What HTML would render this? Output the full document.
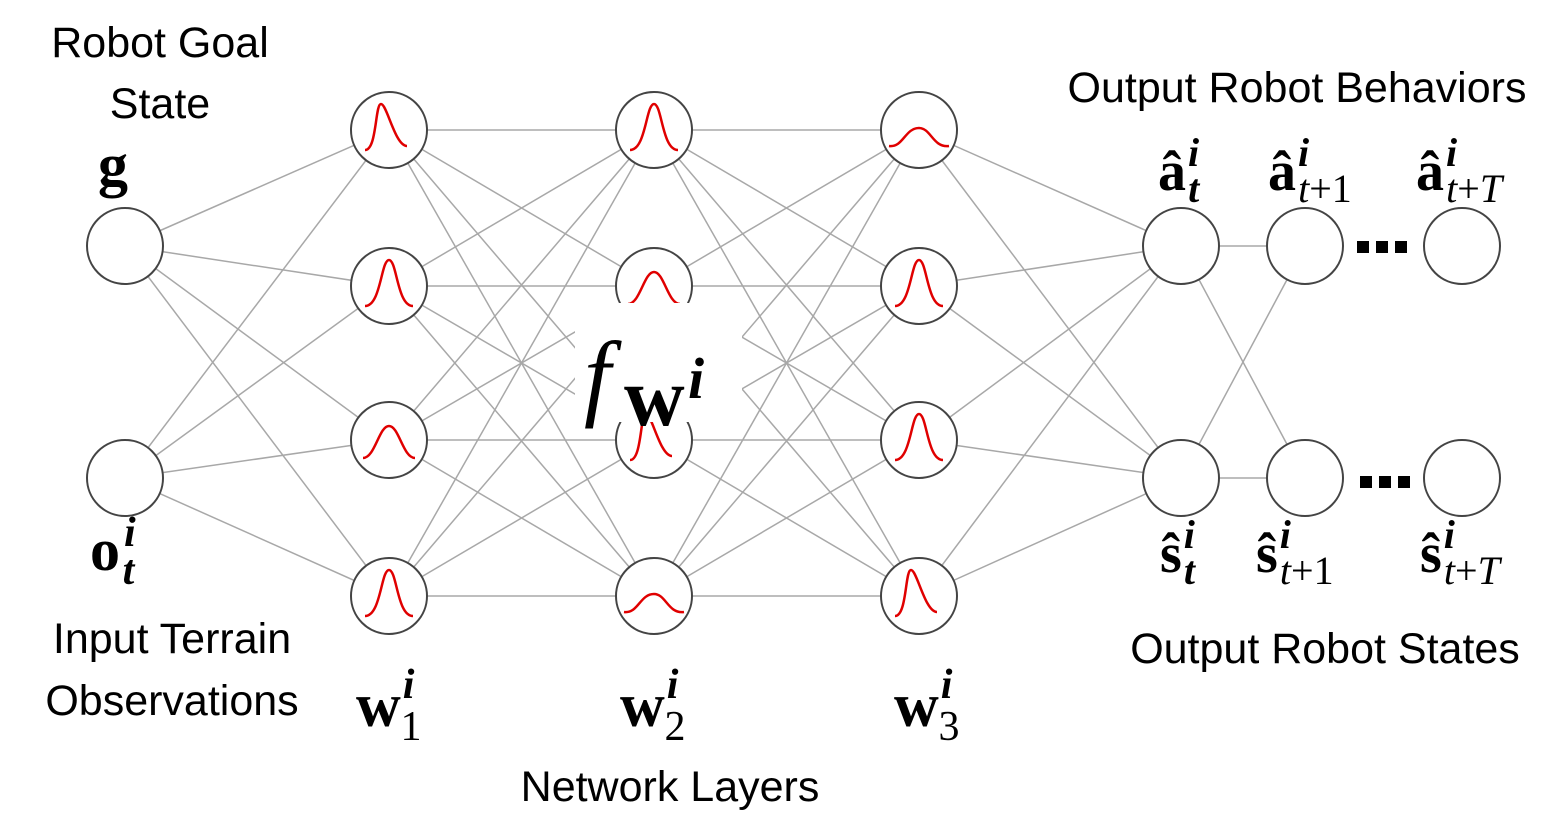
<!DOCTYPE html>
<html><head><meta charset="utf-8"><style>
body{margin:0;background:#fff;width:1562px;height:820px;overflow:hidden}
svg{display:block}
.s{font-family:"Liberation Sans",sans-serif;font-size:43px;fill:#000}
.m{font-family:"Liberation Serif","DejaVu Serif",serif;fill:#000}
</style></head><body>
<svg width="1562" height="820" viewBox="0 0 1562 820" xmlns="http://www.w3.org/2000/svg">
<defs>
<path id="gn" d="M -24 20 C -8 20, -8 -26, 0 -26 C 8 -26, 8 20, 24 20" fill="none" stroke="#e00000" stroke-width="2.5"/>
<path id="gk" d="M -24 20 C -12 20, -14 -26, -8 -26 C -2 -26, 6 16, 18 16" fill="none" stroke="#e00000" stroke-width="2.5"/>
<path id="gw" d="M -26 18 C -14 18, -10 -14, 0 -14 C 10 -14, 14 18, 26 18" fill="none" stroke="#e00000" stroke-width="2.5"/>
<path id="gl" d="M -30 16 C -16 18, -14 -2, 0 -2 C 12 -2, 14 18, 30 16" fill="none" stroke="#e00000" stroke-width="2.5"/>
</defs>
<g stroke="#a8a8a8" stroke-width="1.5">
<line x1="125" y1="246" x2="389" y2="130"/><line x1="125" y1="246" x2="389" y2="286"/><line x1="125" y1="246" x2="389" y2="440"/><line x1="125" y1="246" x2="389" y2="596"/>
<line x1="125" y1="478" x2="389" y2="130"/><line x1="125" y1="478" x2="389" y2="286"/><line x1="125" y1="478" x2="389" y2="440"/><line x1="125" y1="478" x2="389" y2="596"/>
<line x1="389" y1="130" x2="654" y2="130"/><line x1="389" y1="130" x2="654" y2="286"/><line x1="389" y1="130" x2="654" y2="440"/><line x1="389" y1="130" x2="654" y2="596"/>
<line x1="389" y1="286" x2="654" y2="130"/><line x1="389" y1="286" x2="654" y2="286"/><line x1="389" y1="286" x2="654" y2="440"/><line x1="389" y1="286" x2="654" y2="596"/>
<line x1="389" y1="440" x2="654" y2="130"/><line x1="389" y1="440" x2="654" y2="286"/><line x1="389" y1="440" x2="654" y2="440"/><line x1="389" y1="440" x2="654" y2="596"/>
<line x1="389" y1="596" x2="654" y2="130"/><line x1="389" y1="596" x2="654" y2="286"/><line x1="389" y1="596" x2="654" y2="440"/><line x1="389" y1="596" x2="654" y2="596"/>
<line x1="654" y1="130" x2="919" y2="130"/><line x1="654" y1="130" x2="919" y2="286"/><line x1="654" y1="130" x2="919" y2="440"/><line x1="654" y1="130" x2="919" y2="596"/>
<line x1="654" y1="286" x2="919" y2="130"/><line x1="654" y1="286" x2="919" y2="286"/><line x1="654" y1="286" x2="919" y2="440"/><line x1="654" y1="286" x2="919" y2="596"/>
<line x1="654" y1="440" x2="919" y2="130"/><line x1="654" y1="440" x2="919" y2="286"/><line x1="654" y1="440" x2="919" y2="440"/><line x1="654" y1="440" x2="919" y2="596"/>
<line x1="654" y1="596" x2="919" y2="130"/><line x1="654" y1="596" x2="919" y2="286"/><line x1="654" y1="596" x2="919" y2="440"/><line x1="654" y1="596" x2="919" y2="596"/>
<line x1="919" y1="130" x2="1181" y2="246"/><line x1="919" y1="286" x2="1181" y2="246"/><line x1="919" y1="440" x2="1181" y2="246"/><line x1="919" y1="596" x2="1181" y2="246"/>
<line x1="919" y1="130" x2="1181" y2="478"/><line x1="919" y1="286" x2="1181" y2="478"/><line x1="919" y1="440" x2="1181" y2="478"/><line x1="919" y1="596" x2="1181" y2="478"/>
<line x1="1181" y1="246" x2="1305" y2="246"/><line x1="1181" y1="478" x2="1305" y2="478"/>
<line x1="1181" y1="246" x2="1305" y2="478"/><line x1="1181" y1="478" x2="1305" y2="246"/>
</g>
<g fill="#fff" stroke="#444" stroke-width="2">
<circle cx="125" cy="246" r="38"/><circle cx="125" cy="478" r="38"/>
<circle cx="389" cy="130" r="38"/><circle cx="389" cy="286" r="38"/><circle cx="389" cy="440" r="38"/><circle cx="389" cy="596" r="38"/>
<circle cx="654" cy="130" r="38"/><circle cx="654" cy="286" r="38"/><circle cx="654" cy="440" r="38"/><circle cx="654" cy="596" r="38"/>
<circle cx="919" cy="130" r="38"/><circle cx="919" cy="286" r="38"/><circle cx="919" cy="440" r="38"/><circle cx="919" cy="596" r="38"/>
<circle cx="1181" cy="246" r="38"/><circle cx="1305" cy="246" r="38"/><circle cx="1462" cy="246" r="38"/>
<circle cx="1181" cy="478" r="38"/><circle cx="1305" cy="478" r="38"/><circle cx="1462" cy="478" r="38"/>
</g>
<use href="#gk" x="389" y="130"/><use href="#gn" x="389" y="286"/><use href="#gw" x="389" y="440"/><use href="#gn" x="389" y="596"/>
<use href="#gn" x="654" y="130"/><use href="#gw" x="654" y="286"/><use href="#gk" x="654" y="440"/><use href="#gl" x="654" y="596"/>
<use href="#gl" x="919" y="130"/><use href="#gn" x="919" y="286"/><use href="#gn" x="919" y="440"/><use href="#gk" x="919" y="596"/>
<rect x="575" y="303" width="167" height="119" fill="#fff"/>
<text class="m" x="584" y="408" font-size="96" font-style="italic">f</text>
<text class="m" x="624" y="425" font-size="84" font-weight="bold">w</text>
<text class="m" x="688" y="398" font-size="58" font-style="italic" font-weight="bold">i</text>
<g fill="#000"><rect x="1357" y="241" width="12" height="12"/><rect x="1376" y="241" width="12" height="12"/><rect x="1395" y="241" width="12" height="12"/>
<rect x="1360" y="476" width="12" height="12"/><rect x="1379" y="476" width="12" height="12"/><rect x="1398" y="476" width="12" height="12"/></g>
<text class="s" x="160" y="57" text-anchor="middle">Robot Goal</text>
<text class="s" x="160" y="118" text-anchor="middle">State</text>
<text class="s" x="172" y="653" text-anchor="middle">Input Terrain</text>
<text class="s" x="172" y="715" text-anchor="middle">Observations</text>
<text class="m" x="98" y="185" font-size="60" font-weight="bold">g</text>
<g class="m" font-weight="bold">
<text x="90" y="570" font-size="60">o<tspan font-size="42" font-style="italic" dx="4" dy="-24">i</tspan><tspan font-size="42" font-style="italic" dx="-13" dy="38">t</tspan></text>
<text x="356" y="726" font-size="62">w<tspan font-size="42" font-style="italic" dx="2" dy="-28">i</tspan><tspan font-size="42" font-weight="normal" dx="-14" dy="42">1</tspan></text>
<text x="620" y="726" font-size="62">w<tspan font-size="42" font-style="italic" dx="2" dy="-28">i</tspan><tspan font-size="42" font-weight="normal" dx="-14" dy="42">2</tspan></text>
<text x="894" y="726" font-size="62">w<tspan font-size="42" font-style="italic" dx="2" dy="-28">i</tspan><tspan font-size="42" font-weight="normal" dx="-14" dy="42">3</tspan></text>
</g>
<text class="s" x="670" y="801" text-anchor="middle">Network Layers</text>
<text class="s" x="1297" y="102" text-anchor="middle">Output Robot Behaviors</text>
<text class="s" x="1325" y="663" text-anchor="middle">Output Robot States</text>
<g class="m" font-size="56" font-weight="bold">
<text x="1158" y="190">â<tspan font-size="40" font-style="italic" dx="2" dy="-24">i</tspan><tspan font-size="40" font-style="italic" dx="-11" dy="36">t</tspan></text>
<text x="1268" y="190">â<tspan font-size="40" font-style="italic" dx="2" dy="-24">i</tspan><tspan font-size="40" font-weight="normal" dx="-11" dy="36"><tspan font-style="italic">t</tspan>+1</tspan></text>
<text x="1416" y="190">â<tspan font-size="40" font-style="italic" dx="2" dy="-24">i</tspan><tspan font-size="40" font-weight="normal" dx="-11" dy="36"><tspan font-style="italic">t</tspan>+<tspan font-style="italic">T</tspan></tspan></text>
<text x="1160" y="572">ŝ<tspan font-size="40" font-style="italic" dx="2" dy="-24">i</tspan><tspan font-size="40" font-style="italic" dx="-11" dy="36">t</tspan></text>
<text x="1256" y="572">ŝ<tspan font-size="40" font-style="italic" dx="2" dy="-24">i</tspan><tspan font-size="40" font-weight="normal" dx="-11" dy="36"><tspan font-style="italic">t</tspan>+1</tspan></text>
<text x="1420" y="572">ŝ<tspan font-size="40" font-style="italic" dx="2" dy="-24">i</tspan><tspan font-size="40" font-weight="normal" dx="-11" dy="36"><tspan font-style="italic">t</tspan>+<tspan font-style="italic">T</tspan></tspan></text>
</g>
</svg>
</body></html>
